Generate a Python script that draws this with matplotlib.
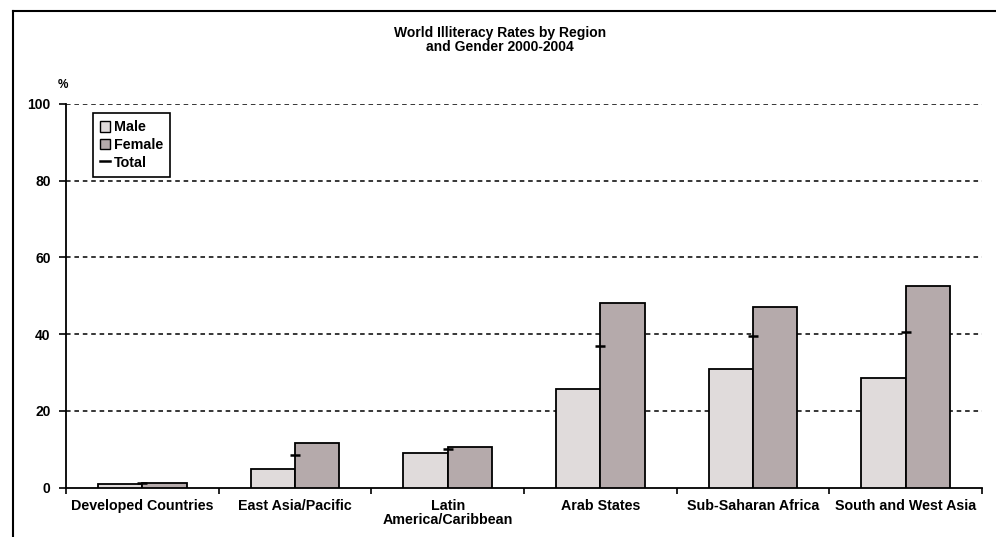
import numpy as np
import matplotlib.pyplot as plt
from matplotlib.lines import Line2D
from matplotlib.patches import Patch

plt.rcParams['font.family'] = ['Liberation Sans', 'DejaVu Sans']
plt.rcParams['font.weight'] = 'bold'

# data (%)
regions = ['Developed Countries', 'East Asia/Pacific', 'Latin\nAmerica/Caribbean',
           'Arab States', 'Sub-Saharan Africa', 'South and West Asia']
male = [0.8, 4.7, 9.0, 25.7, 30.9, 28.6]
female = [1.3, 11.7, 10.5, 48.2, 47.1, 52.6]
total = [1.1, 8.4, 10.0, 36.9, 39.5, 40.6]
yticks = [0, 20, 40, 60, 80, 100]

male_color = '#e0dbdb'
female_color = '#b5aaab'

fig = plt.figure(figsize=(9.96, 5.37), dpi=100)
ax = fig.add_axes([66 / 996, 1 - 487.5 / 537, 916 / 996, 383.5 / 537])

x = np.arange(len(regions)) + 0.5
w = 0.29
ax.bar(x - w / 2, male, w, color=male_color, edgecolor='black', linewidth=1.3, zorder=3)
ax.bar(x + w / 2, female, w, color=female_color, edgecolor='black', linewidth=1.3, zorder=3)
ax.scatter(x, total, marker='_', s=60, color='black', linewidths=1.8, zorder=4)

ax.set_xlim(0, len(regions))
ax.set_ylim(0, 100)
ax.set_yticks(yticks)
ax.set_yticklabels([str(v) for v in yticks], fontsize=10, fontweight='bold')
ax.set_xticks(np.arange(len(regions) + 1))
ax.set_xticklabels([])
ax.set_xticks(x, minor=True)
ax.set_xticklabels(regions, minor=True, fontsize=10.3, fontweight='bold', linespacing=1.0)
ax.tick_params(axis='x', which='minor', length=0, pad=8)
ax.tick_params(axis='x', which='major', length=4, direction='out', width=1.2)
ax.tick_params(axis='y', length=5, direction='out', width=1.2, pad=6)

for v in yticks[1:]:
    ax.axhline(v, color='black', linestyle=(0, (3, 2.5)), linewidth=1.1, zorder=1)

for s in ['top', 'right']:
    ax.spines[s].set_visible(False)
ax.spines['left'].set_linewidth(1.3)
ax.spines['bottom'].set_linewidth(1.3)

ax.text(-0.003, 1.05, '%', transform=ax.transAxes, ha='center', va='center',
        fontsize=8.5, fontweight='bold')

handles = [Patch(facecolor=male_color, edgecolor='black', label='Male'),
           Patch(facecolor=female_color, edgecolor='black', label='Female'),
           Line2D([], [], color='black', linewidth=1.8, label='Total')]
leg = ax.legend(handles=handles, loc='upper left', bbox_to_anchor=(0.029, 0.976),
                prop={'size': 10.3, 'weight': 'bold'}, handlelength=0.75, handleheight=0.75,
                handletextpad=0.25, borderpad=0.5, labelspacing=0.25, borderaxespad=0,
                fancybox=False, framealpha=1, edgecolor='black')
leg.get_frame().set_linewidth(1.2)

fig.text(500 / 996, 1 - 40 / 537, 'World Illiteracy Rates by Region\nand Gender 2000-2004',
         ha='center', va='center', fontsize=10, fontweight='bold', linespacing=1.05)

# scan border: top and left lines
fig.add_artist(Line2D([13 / 996, 1], [1 - 11 / 537, 1 - 11 / 537], color='black', linewidth=1.5))
fig.add_artist(Line2D([13 / 996, 13 / 996], [0, 1 - 11 / 537], color='black', linewidth=1.5))

fig.savefig('out.png', dpi=100)
